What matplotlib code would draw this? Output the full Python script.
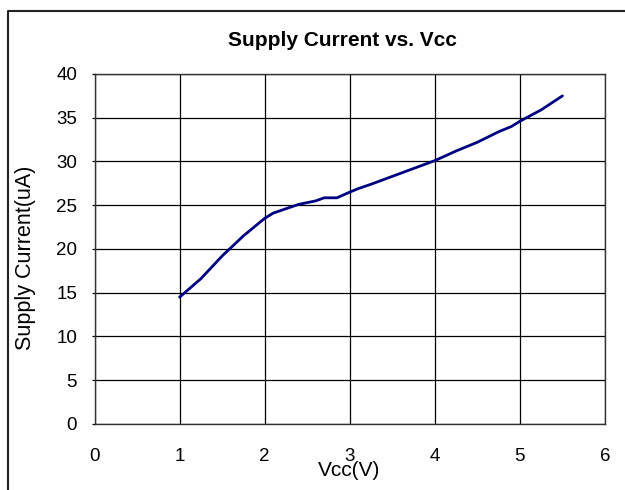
import matplotlib
matplotlib.use("Agg")
import matplotlib.pyplot as plt
from matplotlib.lines import Line2D

vcc = [1.0, 1.25, 1.5, 1.75, 2.0, 2.1, 2.25, 2.4, 2.6, 2.7, 2.85, 3.0, 3.1,
       3.25, 3.5, 3.75, 4.0, 4.25, 4.5, 4.75, 4.9, 5.0, 5.25, 5.5]
current = [14.5, 16.6, 19.2, 21.5, 23.5, 24.1, 24.6, 25.1, 25.5, 25.85, 25.85,
           26.5, 26.9, 27.4, 28.3, 29.2, 30.1, 31.2, 32.2, 33.4, 34.0, 34.6,
           35.9, 37.5]
xticks = [0, 1, 2, 3, 4, 5, 6]
yticks = [0, 5, 10, 15, 20, 25, 30, 35, 40]

plt.rcParams['font.family'] = ['Liberation Sans', 'DejaVu Sans']

W, H = 625, 490
fig = plt.figure(figsize=(6.25, 4.9), dpi=100)
ax = fig.add_axes([0.1512, 0.1347, 0.8168, 0.7143])

ax.plot(vcc, current, color='#000080', lw=2.0, solid_capstyle='round')

ax.set_xlim(0, 6)
ax.set_ylim(0, 40)
ax.set_xticks(xticks)
ax.set_yticks(yticks)
ax.grid(True, color='#000000', lw=0.9)
ax.set_axisbelow(True)
for s in ax.spines.values():
    s.set_color('#333333')
    s.set_linewidth(1.0)
ax.tick_params(axis='x', length=0, pad=17.5, labelsize=13.5)
ax.tick_params(axis='y', length=2, width=0.9, pad=10.5, labelsize=13.5)

fig.text(349 / W, 1 - 470 / H, 'Vcc(V)', fontsize=15, ha='center', va='center')
fig.text(26 / W, 1 - 258 / H, 'Supply Current(uA)', fontsize=15.5,
         rotation=90, ha='center', va='center')
fig.text(342.5 / W, 1 - 40 / H, 'Supply Current vs. Vcc', fontsize=15,
         fontweight='bold', ha='center', va='center')

# outer chart border (partially visible)
fig.add_artist(Line2D([7.5 / W, 7.5 / W, 1.0], [0.0, 1 - 11 / H, 1 - 11 / H],
                      transform=fig.transFigure, color='#222222', lw=1.5))

fig.savefig('out.png', dpi=100)
